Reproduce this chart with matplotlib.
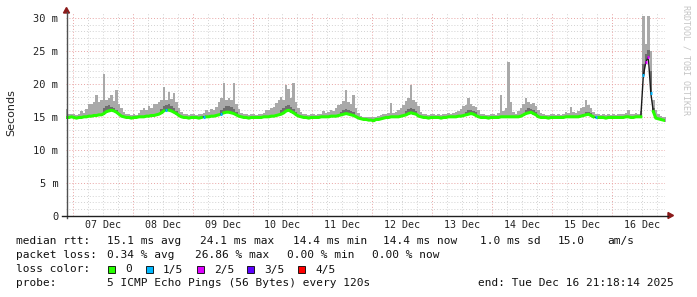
import numpy as np
import matplotlib
matplotlib.use('Agg')
import matplotlib.pyplot as plt
from matplotlib.patches import Polygon, Rectangle
from matplotlib.lines import Line2D

# hourly samples, first sample = 06 Dec 21:00, last = 16 Dec 21:00
day_labels = ['07 Dec', '08 Dec', '09 Dec', '10 Dec', '11 Dec',
              '12 Dec', '13 Dec', '14 Dec', '15 Dec', '16 Dec']

rtt_median = [
    14.9, 14.9, 15.0,  # 06 Dec 21-23
    14.9, 14.8, 14.9, 14.9, 15.0, 15.0, 15.1, 15.1, 15.2, 15.2, 15.3, 15.3,
    15.5, 15.8, 15.9, 16.0, 15.9, 15.7, 15.4, 15.1, 15.0, 14.9, 14.9, 14.8,  # 07
    14.9, 14.9, 15.0, 15.0, 15.0, 15.1, 15.1, 15.2, 15.2, 15.3, 15.4, 15.6,
    15.9, 16.0, 16.0, 15.9, 15.7, 15.5, 15.2, 15.0, 14.9, 14.9, 14.8, 14.9,  # 08
    14.9, 14.9, 14.8, 14.9, 15.0, 15.0, 15.0, 15.1, 15.1, 15.2, 15.3, 15.4,
    15.6, 15.7, 15.7, 15.6, 15.5, 15.3, 15.1, 15.0, 14.9, 14.9, 14.8, 14.9,  # 09
    14.9, 14.9, 14.9, 14.9, 15.0, 15.0, 15.0, 15.1, 15.1, 15.2, 15.3, 15.4,
    15.6, 15.9, 16.0, 15.8, 15.6, 15.3, 15.1, 15.0, 14.9, 14.9, 14.8, 14.9,  # 10
    14.9, 14.9, 14.9, 15.0, 15.0, 15.0, 15.0, 15.1, 15.1, 15.1, 15.2, 15.3,
    15.4, 15.5, 15.4, 15.3, 15.2, 15.0, 14.8, 14.7, 14.6, 14.6, 14.5, 14.5,  # 11
    14.4, 14.6, 14.6, 14.7, 14.8, 14.9, 14.9, 15.0, 15.0, 15.0, 15.0, 15.1,
    15.2, 15.3, 15.5, 15.6, 15.5, 15.4, 15.1, 15.0, 14.9, 14.9, 14.8, 14.9,  # 12
    14.9, 14.9, 14.9, 14.8, 14.9, 14.9, 15.0, 15.0, 15.0, 15.0, 15.1, 15.1,
    15.2, 15.3, 15.4, 15.5, 15.4, 15.2, 15.0, 14.9, 14.9, 14.9, 14.8, 14.9,  # 13
    14.9, 14.9, 14.9, 15.0, 15.0, 15.0, 15.0, 15.0, 15.0, 15.0, 15.0, 15.1,
    15.3, 15.5, 15.6, 15.7, 15.5, 15.3, 15.0, 14.9, 14.9, 14.9, 14.8, 14.9,  # 14
    14.9, 14.9, 14.9, 14.9, 14.9, 15.0, 15.0, 15.0, 15.0, 15.0, 15.0, 15.1,
    15.2, 15.3, 15.4, 15.2, 15.0, 14.9, 14.9, 14.9, 14.9, 14.8, 14.9, 14.9,  # 15
    14.9, 14.9, 14.9, 14.9, 14.9, 15.0, 15.0, 14.9, 14.9, 15.0, 15.0, 15.0,
    21.3, 23.3, 24.1, 18.6, 15.8, 14.8, 14.7, 14.6, 14.5, 14.4,  # 16
]

rtt_max = [
    16.2, 15.5, 15.4,
    15.4, 15.3, 15.5, 15.9, 15.6, 16.2, 16.9, 17.0, 17.3, 18.3, 17.2, 17.6,
    21.5, 17.6, 17.9, 18.3, 17.4, 19.1, 17.0, 16.3, 15.8, 15.5, 15.4, 15.3,
    15.4, 15.3, 15.6, 16.1, 16.4, 16.0, 16.6, 16.4, 16.9, 17.0, 17.3, 17.5,
    19.5, 17.6, 18.8, 17.7, 18.6, 17.2, 16.4, 15.8, 15.5, 15.4, 15.3, 15.5,
    15.4, 15.3, 15.4, 15.5, 15.6, 16.0, 15.8, 16.2, 16.0, 16.5, 17.2, 17.8,
    20.1, 17.6, 17.9, 17.5, 20.2, 17.0, 16.2, 15.6, 15.5, 15.4, 15.3, 15.4,
    15.4, 15.3, 15.4, 15.5, 15.6, 16.1, 16.0, 16.3, 16.5, 17.1, 17.5, 18.0,
    17.6, 19.8, 19.3, 17.9, 20.1, 17.2, 16.3, 15.7, 15.5, 15.4, 15.3, 15.4,
    15.4, 15.3, 15.4, 15.5, 15.9, 15.6, 15.8, 16.0, 15.9, 16.3, 16.8, 17.0,
    17.4, 19.1, 17.2, 17.0, 18.3, 16.4, 15.6, 15.2, 15.0, 14.9, 14.9, 15.0,
    14.9, 15.0, 15.1, 15.3, 15.4, 15.5, 15.6, 17.1, 15.6, 15.8, 16.0, 16.3,
    16.8, 17.4, 17.9, 19.8, 17.6, 17.2, 16.6, 15.8, 15.5, 15.4, 15.3, 15.4,
    15.4, 15.3, 15.4, 15.3, 15.4, 15.5, 15.6, 15.5, 15.6, 15.7, 15.9, 16.2,
    16.6, 16.8, 17.8, 16.9, 16.7, 16.5, 16.0, 15.5, 15.4, 15.3, 15.3, 15.4,
    15.4, 15.3, 15.6, 18.3, 15.9, 16.4, 23.3, 17.2, 15.8, 15.5, 15.9, 16.4,
    16.9, 17.9, 17.2, 17.0, 17.1, 16.6, 16.0, 15.6, 15.4, 15.3, 15.3, 15.4,
    15.4, 15.3, 15.4, 15.3, 15.5, 15.7, 15.6, 16.5, 15.7, 15.6, 15.9, 16.3,
    16.5, 17.5, 16.8, 16.4, 15.8, 15.5, 15.4, 15.3, 15.4, 15.3, 15.4, 15.3,
    15.4, 15.3, 15.4, 15.5, 15.4, 15.6, 16.0, 15.5, 15.4, 15.6, 15.5, 15.9,
    30.4, 26.0, 30.4, 25.0, 17.5, 16.0, 15.4, 15.2, 15.0, 14.9,
]

# darker inner smoke (hours since 07 Dec 00:00, consecutive values)
dark_start = [12, 35, 59, 83, 107, 133, 157, 181, 204, 228]
dark_top = [
    [16.3, 16.6, 16.8, 16.5, 16.4, 16.1],
    [16.2, 16.6, 16.8, 16.9, 16.6, 16.3, 15.9],
    [16.0, 16.4, 16.6, 16.7, 16.5, 16.2, 15.8],
    [16.0, 16.3, 16.7, 16.8, 16.5, 16.2, 15.8],
    [15.8, 16.1, 16.2, 16.1, 15.9, 15.7],
    [15.9, 16.2, 16.4, 16.2, 15.9],
    [15.8, 16.0, 16.1, 15.9, 15.7],
    [16.0, 16.3, 16.2, 16.1, 15.8],
    [15.5, 15.7, 15.8, 15.6],
    [23.0, 24.6, 25.2, 22.0, 16.3],
]

# hours with packet loss (hours since 07 Dec 00:00) and lost pings of 5
loss_hours = [37, 52, 59, 209, 228, 229, 230, 231]
loss_level = [1, 1, 1, 1, 1, 2, 2, 1]

loss_names = ['0', '1/5', '2/5', '3/5', '4/5']
loss_colors = ['#26ff00', '#00b8ff', '#dd00ff', '#5e00ff', '#ff0000']

W, H = 697, 297
fig = plt.figure(figsize=(W / 100, H / 100), dpi=100)
fig.patch.set_facecolor('white')

def fx(x):
    return x / W

def fy(y):
    return 1 - y / H

ax = fig.add_axes([fx(66), fy(215.5), fx(665.3) - fx(66), fy(13.2) - fy(215.5)])
ax.set_xlim(-2.7, 237.3)
ax.set_ylim(0, 30.75)
for s in ax.spines.values():
    s.set_visible(False)

med = np.array(rtt_median)
mx = np.array(rtt_max)
t = np.arange(len(med)) - 3
dark = med.copy()
for st, vals in zip(dark_start, dark_top):
    for k, v in enumerate(vals):
        dark[st + k + 3] = v

# grid
for v in range(1, 31):
    if v % 5 == 0:
        ax.axhline(v, color='#e8a4a4', lw=0.7, ls=(0, (1, 2)), zorder=0)
    else:
        ax.axhline(v, color='#d2d2d2', lw=0.7, ls=(0, (1, 2)), zorder=0)
for h in range(0, 240, 6):
    if h % 24 == 0:
        ax.axvline(h, color='#e8a4a4', lw=0.7, ls=(0, (1, 2)), zorder=0)
    else:
        ax.axvline(h, color='#d2d2d2', lw=0.7, ls=(0, (1, 2)), zorder=0)

# smoke
te = np.append(t, t[-1] + 1)
ax.fill_between(te, np.append(med, med[-1]) - 0.15, np.append(mx, mx[-1]),
                step='post', color='#a9a9a9', lw=0, zorder=2)
ax.fill_between(te, np.append(med, med[-1]), np.append(dark, dark[-1]),
                step='post', color='#6e6e6e', lw=0, zorder=3)

# median
lost = np.zeros(len(med), dtype=int)
for h, lv in zip(loss_hours, loss_level):
    lost[h + 3] = lv
ax.plot(t + 0.5, med, color='#1a1a1a', lw=1.0, zorder=4)
green = np.where(lost > 0, np.nan, med)
ax.plot(t + 0.5, green, color=loss_colors[0], lw=2.2, zorder=5)
for h, lv in zip(loss_hours, loss_level):
    ax.hlines(med[h + 3], h + 0.1, h + 0.9, color=loss_colors[lv], lw=2.2, zorder=6)

# ticks
ax.set_yticks(range(0, 31, 5))
ax.set_yticklabels(['0'] + ['%d m' % v for v in range(5, 31, 5)])
ax.set_xticks([12 + 24 * i for i in range(len(day_labels))])
ax.set_xticklabels(day_labels)
ax.tick_params(axis='y', length=0, pad=5.5, labelsize=7.5, labelcolor='#222222')
ax.tick_params(axis='x', length=0, pad=3, labelsize=7.2, labelcolor='#222222')
for lab in ax.get_xticklabels() + ax.get_yticklabels():
    lab.set_fontfamily('DejaVu Sans Mono')

# axis lines with arrows
fig.add_artist(Line2D([fx(66.5), fx(66.5)], [fy(218), fy(12)], color='#505050', lw=1))
fig.add_artist(Line2D([fx(62), fx(668)], [fy(215.5), fy(215.5)], color='#202020', lw=1))
fig.add_artist(Polygon([[fx(63.5), fy(13)], [fx(69.5), fy(13)], [fx(66.5), fy(7.5)]],
                       closed=True, color='#8b1a1a', transform=fig.transFigure))
fig.add_artist(Polygon([[fx(668), fy(212.5)], [fx(668), fy(218.5)], [fx(673.5), fy(215.5)]],
                       closed=True, color='#8b1a1a', transform=fig.transFigure))

fig.text(fx(11), fy(113), 'Seconds', rotation=90, ha='center', va='center',
         fontsize=8, family='DejaVu Sans', color='#222222')
fig.text(fx(686), fy(5), 'RRDTOOL / TOBI OETIKER', rotation=-90, ha='center', va='top',
         fontsize=6, family='DejaVu Sans Mono', color='#c4c4c4')

# legend
mono = dict(fontsize=8, family='DejaVu Sans Mono', color='#111111', va='center', ha='left')
line1 = [(16, 'median rtt:'), (107, '15.1 ms avg'), (200, '24.1 ms max'),
         (293, '14.4 ms min'), (383, '14.4 ms now'), (480, '1.0 ms sd'),
         (558, '15.0'), (607, 'am/s')]
line2 = [(16, 'packet loss:'), (107, '0.34 % avg'), (195, '26.86 % max'),
         (287, '0.00 % min'), (372, '0.00 % now')]
line4 = [(16, 'probe:'), (107, '5 ICMP Echo Pings (56 Bytes) every 120s'),
         (478, 'end: Tue Dec 16 21:18:14 2025')]
for x, s in line1:
    fig.text(fx(x), fy(241), s, **mono)
for x, s in line2:
    fig.text(fx(x), fy(255.5), s, **mono)
fig.text(fx(16), fy(269.5), 'loss color:', **mono)
sq_x = [108, 146, 197, 247, 298]
for x, name, col in zip(sq_x, loss_names, loss_colors):
    fig.add_artist(Rectangle((fx(x), fy(273)), fx(7), 7 / H, facecolor=col,
                             edgecolor='#000000', lw=0.6, transform=fig.transFigure))
    fig.text(fx(x + 17), fy(269.5), name, **mono)
for x, s in line4:
    fig.text(fx(x), fy(283.5), s, **mono)

fig.savefig('out.png', dpi=100, facecolor='white')
